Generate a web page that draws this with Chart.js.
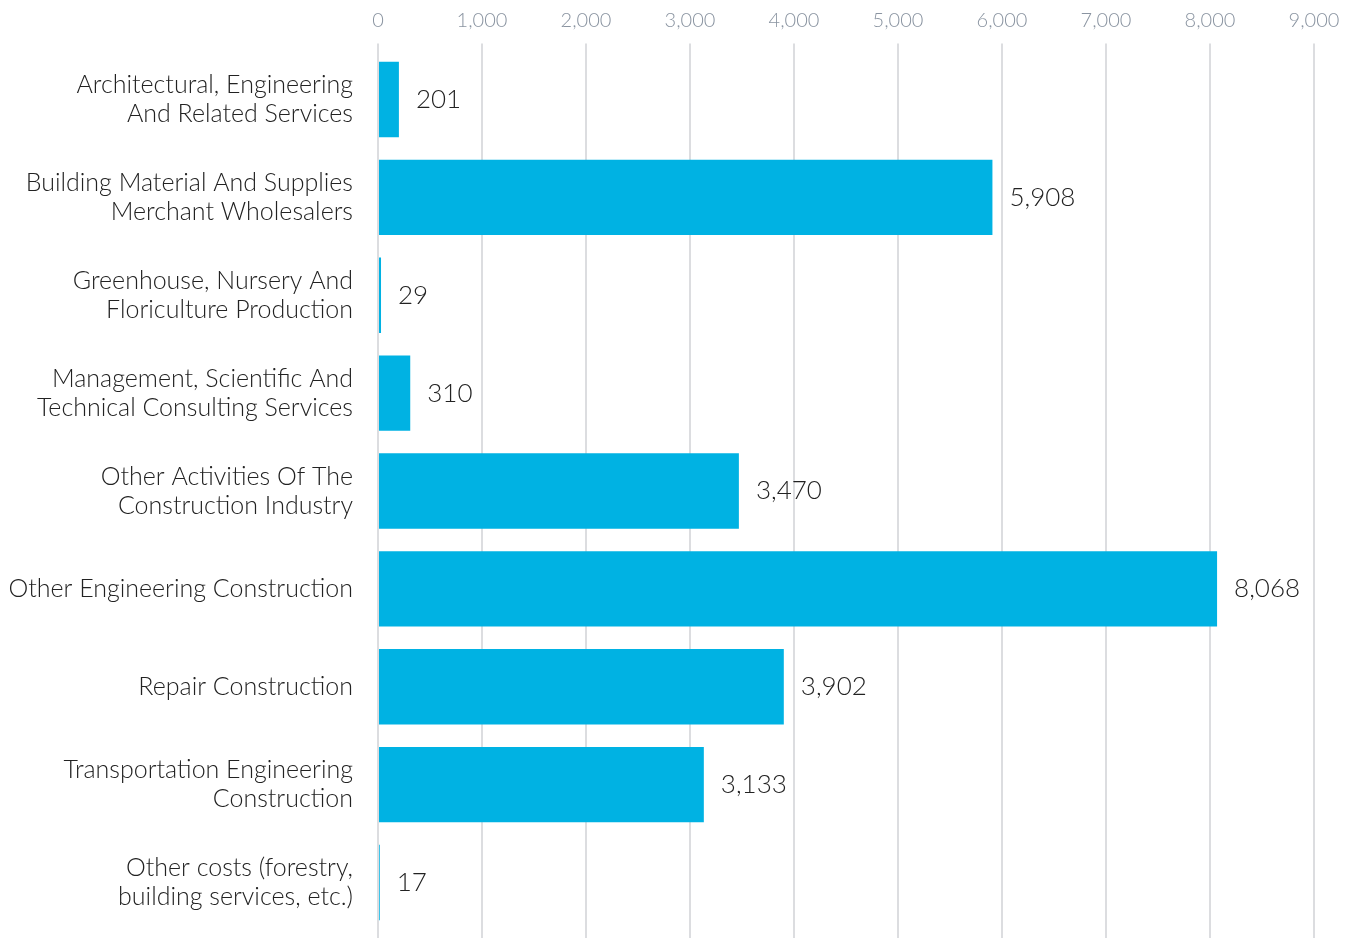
<!DOCTYPE html>
<html>
<head>
<meta charset="utf-8">
<script src="https://cdn.jsdelivr.net/npm/chart.js@4/dist/chart.umd.min.js"></script>
<style>
  body { margin: 0; background: #fff; }
  canvas { display: block; }
</style>
</head>
<body>
<canvas id="chart" width="1352" height="938"></canvas>
<script>
const categories = [
  ['Architectural, Engineering', 'And Related Services'],
  ['Building Material And Supplies', 'Merchant Wholesalers'],
  ['Greenhouse, Nursery And', 'Floriculture Production'],
  ['Management, Scientific And', 'Technical Consulting Services'],
  ['Other Activities Of The', 'Construction Industry'],
  'Other Engineering Construction',
  'Repair Construction',
  ['Transportation Engineering', 'Construction'],
  ['Other costs (forestry,', 'building services, etc.)']
];
const values = [201, 5908, 29, 310, 3470, 8068, 3902, 3133, 17];
const axisMax = 9000;
const axisStep = 1000;

const fontFamily = 'Lato, "Open Sans", sans-serif';
const gridColor = '#dcdde0';

// writes the value just past the end of each bar
const valueLabels = {
  id: 'valueLabels',
  afterDatasetsDraw(chart) {
    const ctx = chart.ctx;
    const meta = chart.getDatasetMeta(0);
    ctx.save();
    ctx.font = '300 26px ' + fontFamily;
    ctx.fillStyle = '#222';
    ctx.textAlign = 'left';
    ctx.textBaseline = 'middle';
    meta.data.forEach((bar, i) => {
      ctx.fillText(values[i].toLocaleString('en-US'), bar.x + 17, bar.y);
    });
    ctx.restore();
  }
};

new Chart(document.getElementById('chart').getContext('2d'), {
  type: 'bar',
  data: {
    labels: categories,
    datasets: [{
      data: values,
      backgroundColor: '#00b2e3',
      borderWidth: 0,
      barPercentage: 0.77,
      categoryPercentage: 1
    }]
  },
  options: {
    indexAxis: 'y',
    responsive: false,
    animation: false,
    layout: { padding: { left: 0, right: 38, top: 0, bottom: 0 } },
    plugins: {
      legend: { display: false },
      tooltip: { enabled: false }
    },
    scales: {
      x: {
        position: 'top',
        min: 0,
        max: axisMax,
        border: { display: false },
        grid: {
          color: gridColor,
          lineWidth: 2,
          drawTicks: true,
          tickLength: 7
        },
        ticks: {
          stepSize: axisStep,
          color: '#8a94a1',
          padding: 11,
          font: { family: fontFamily, size: 20, weight: 300 },
          callback: (v) => v.toLocaleString('en-US')
        },
        afterFit: (scale) => {
          scale.height = 50.6;
          scale.paddingLeft = 0;
          scale.paddingRight = 0;
        }
      },
      // empty bottom axis, only so the grid lines run on to the bottom edge
      xBottom: {
        type: 'linear',
        axis: 'x',
        position: 'bottom',
        min: 0,
        max: axisMax,
        border: { display: false },
        grid: {
          color: gridColor,
          lineWidth: 2,
          drawOnChartArea: false,
          drawTicks: true,
          tickLength: 7
        },
        ticks: { stepSize: axisStep, display: false },
        afterFit: (scale) => {
          scale.height = 6.6;
          scale.paddingLeft = 0;
          scale.paddingRight = 0;
        }
      },
      y: {
        border: { display: false },
        grid: { display: false, drawTicks: false },
        ticks: {
          color: '#222',
          padding: 25,
          font: { family: fontFamily, size: 25, weight: 300, lineHeight: 1.16 }
        },
        afterFit: (scale) => {
          scale.width = 378;
          scale.paddingTop = 0;
          scale.paddingBottom = 0;
        }
      }
    }
  },
  plugins: [valueLabels]
});
</script>
</body>
</html>
